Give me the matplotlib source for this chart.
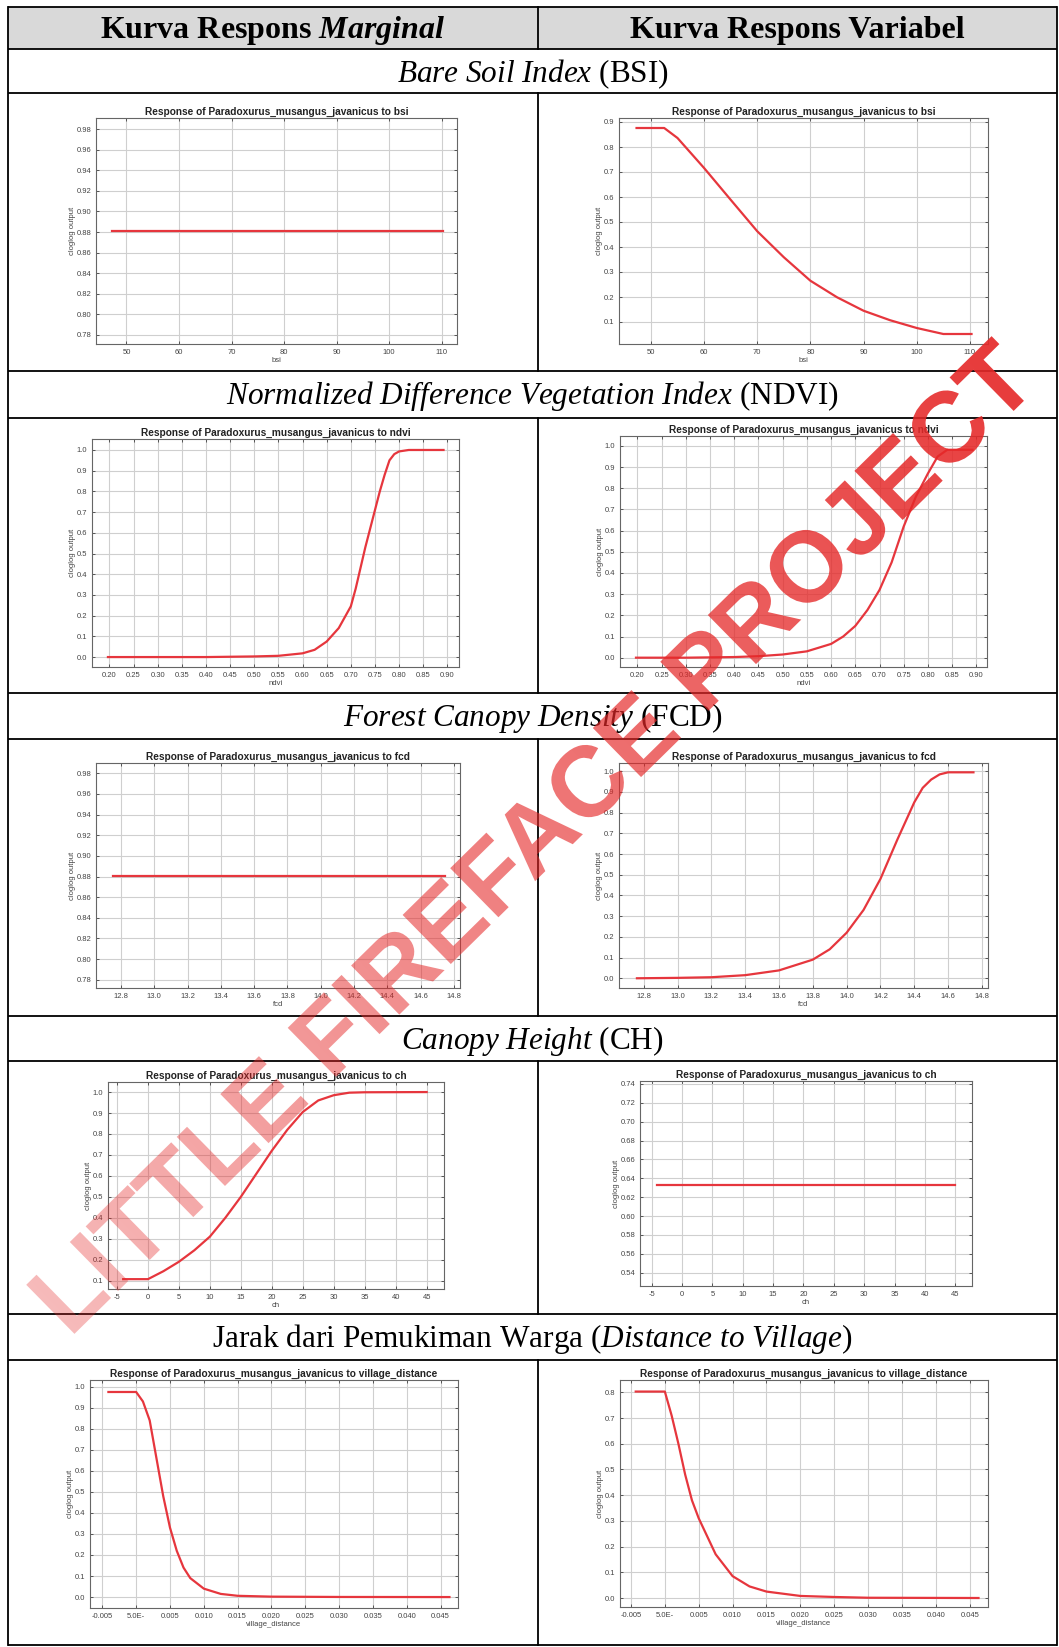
import matplotlib
matplotlib.use("Agg")
import numpy as np
import matplotlib.pyplot as plt
from matplotlib.patches import Rectangle, PathPatch
from matplotlib.textpath import TextPath
from matplotlib.font_manager import FontProperties
from matplotlib.transforms import Affine2D

plt.rcParams['font.family'] = 'Liberation Sans'
plt.rcParams['mathtext.fontset'] = 'custom'
plt.rcParams['mathtext.rm'] = 'Liberation Serif'
plt.rcParams['mathtext.it'] = 'Liberation Serif:italic'
plt.rcParams['mathtext.bf'] = 'Liberation Serif:bold'
plt.rcParams['mathtext.bfit'] = 'Liberation Serif:italic:bold'

# ------------------------- #
#          Data             #
# ------------------------- #

species = "Paradoxurus_musangus_javanicus"

# BSI
bsi_x_marg = [47.3, 110.3]
bsi_y_marg = [0.881, 0.881]
bsi_x_var = [47.3, 52.5, 55, 60, 65, 70, 75, 80, 85, 90, 95, 100, 105, 110.3]
bsi_y_var = [0.876, 0.876, 0.836, 0.716, 0.589, 0.463, 0.359, 0.265, 0.199, 0.145, 0.107, 0.076, 0.052, 0.052]

# NDVI
ndvi_x_marg = [0.197, 0.30, 0.40, 0.50, 0.55, 0.60, 0.625, 0.65, 0.675, 0.70, 0.71, 0.72,
               0.73, 0.74, 0.75, 0.76, 0.77, 0.78, 0.79, 0.80, 0.82, 0.892]
ndvi_y_marg = [0.0, 0.0, 0.0, 0.003, 0.006, 0.018, 0.035, 0.075, 0.14, 0.245, 0.33, 0.43,
               0.53, 0.62, 0.71, 0.80, 0.88, 0.95, 0.98, 0.993, 1.0, 1.0]
ndvi_x_var = [0.197, 0.30, 0.40, 0.45, 0.50, 0.55, 0.60, 0.625, 0.65, 0.675, 0.70, 0.725,
              0.75, 0.775, 0.80, 0.82, 0.84, 0.892]
ndvi_y_var = [0.0, 0.0, 0.003, 0.007, 0.015, 0.03, 0.065, 0.10, 0.15, 0.225, 0.32, 0.45,
              0.62, 0.76, 0.87, 0.95, 0.982, 0.982]

# FCD
fcd_x_marg = [12.755, 14.745]
fcd_y_marg = [0.881, 0.881]
fcd_x_var = [12.76, 13.0, 13.2, 13.4, 13.6, 13.8, 13.9, 14.0, 14.1, 14.2, 14.3, 14.4,
             14.45, 14.5, 14.55, 14.6, 14.75]
fcd_y_var = [0.0, 0.002, 0.005, 0.015, 0.038, 0.09, 0.14, 0.22, 0.33, 0.48, 0.67, 0.85,
             0.92, 0.96, 0.985, 0.995, 0.995]

# CH
ch_x_marg = [-4, -2, 0, 2.5, 5, 7.5, 10, 12.5, 15, 17.5, 20, 22.5, 25, 27.5, 30, 32.5, 35, 45]
ch_y_marg = [0.107, 0.107, 0.107, 0.145, 0.19, 0.245, 0.31, 0.40, 0.50, 0.61, 0.72, 0.82,
             0.905, 0.96, 0.985, 0.997, 0.999, 1.0]
ch_x_var = [-4.2, 45]
ch_y_var = [0.633, 0.633]

# Village distance
vil_x_marg = [-0.0041, 0.0, 0.001, 0.002, 0.003, 0.004, 0.005, 0.006, 0.007, 0.008, 0.010,
              0.0125, 0.015, 0.020, 0.030, 0.0463]
vil_y_marg = [0.975, 0.975, 0.93, 0.84, 0.66, 0.48, 0.33, 0.22, 0.14, 0.09, 0.04,
              0.015, 0.006, 0.002, 0.0005, 0.0]
vil_x_var = [-0.0043, 0.0, 0.001, 0.002, 0.003, 0.004, 0.005, 0.0075, 0.010, 0.0125, 0.015,
             0.020, 0.025, 0.030, 0.0463]
vil_y_var = [0.803, 0.803, 0.71, 0.60, 0.48, 0.38, 0.31, 0.17, 0.085, 0.045, 0.025,
             0.008, 0.004, 0.001, 0.0]

# ticks
bsi_xticks = [50, 60, 70, 80, 90, 100, 110]
ndvi_xticks = [0.20, 0.25, 0.30, 0.35, 0.40, 0.45, 0.50, 0.55, 0.60, 0.65, 0.70, 0.75, 0.80, 0.85, 0.90]
fcd_xticks = [12.8, 13.0, 13.2, 13.4, 13.6, 13.8, 14.0, 14.2, 14.4, 14.6, 14.8]
ch_xticks = [-5, 0, 5, 10, 15, 20, 25, 30, 35, 40, 45]
vil_xticks = [-0.005, 0.0, 0.005, 0.010, 0.015, 0.020, 0.025, 0.030, 0.035, 0.040, 0.045]
vil_xlabels = ["-0.005", "5.0E-", "0.005", "0.010", "0.015", "0.020", "0.025",
               "0.030", "0.035", "0.040", "0.045"]
y_flat = [0.78, 0.80, 0.82, 0.84, 0.86, 0.88, 0.90, 0.92, 0.94, 0.96, 0.98]
y_unit = [0.0, 0.1, 0.2, 0.3, 0.4, 0.5, 0.6, 0.7, 0.8, 0.9, 1.0]
y_bsi = [0.1, 0.2, 0.3, 0.4, 0.5, 0.6, 0.7, 0.8, 0.9]
y_ch_marg = [0.1, 0.2, 0.3, 0.4, 0.5, 0.6, 0.7, 0.8, 0.9, 1.0]
y_ch_var = [0.54, 0.56, 0.58, 0.60, 0.62, 0.64, 0.66, 0.68, 0.70, 0.72, 0.74]
y_vil_var = [0.0, 0.1, 0.2, 0.3, 0.4, 0.5, 0.6, 0.7, 0.8]

header_left = r'Kurva Respons $\mathbfit{Marginal}$'
header_right = 'Kurva Respons Variabel'
row_titles = [
    r'$\mathit{Bare\ Soil\ Index}$ (BSI)',
    r'$\mathit{Normalized\ Difference\ Vegetation\ Index}$ (NDVI)',
    r'$\mathit{Forest\ Canopy\ Density}$ (FCD)',
    r'$\mathit{Canopy\ Height}$ (CH)',
    r'Jarak dari Pemukiman Warga ($\mathit{Distance\ to\ Village}$)',
]
watermark = 'LITTLE FIREFACE PROJECT'

# ------------------------- #
#          Layout           #
# ------------------------- #

W, H = 1059, 1647
fig = plt.figure(figsize=(W / 100, H / 100), dpi=100)

bg = fig.add_axes([0, 0, 1, 1], zorder=-1)
bg.set_xlim(0, W)
bg.set_ylim(H, 0)
bg.axis('off')

L, R, MID = 8, 1057, 538
row_lines = [7, 49, 93, 371, 418, 693, 739, 1016, 1061, 1314, 1360, 1645]

bg.add_patch(Rectangle((L, 7), R - L, 42, color='#d9d9d9', lw=0))
for yy in row_lines:
    bg.plot([L, R], [yy, yy], color='black', lw=1.3, solid_capstyle='butt')
bg.plot([L, L], [7, 1645], color='black', lw=1.3)
bg.plot([R, R], [7, 1645], color='black', lw=1.3)
# garis tengah hanya di header dan baris grafik
for i in [0, 2, 4, 6, 8, 10]:
    bg.plot([MID, MID], [row_lines[i], row_lines[i + 1]], color='black', lw=1.3)

serif = 'Liberation Serif'
bg.text((L + MID) / 2, 38, header_left, fontsize=23, weight='bold', family=serif,
        ha='center', va='baseline')
bg.text((MID + R) / 2, 38, header_right, fontsize=23, weight='bold', family=serif,
        ha='center', va='baseline')
for i, t in enumerate(row_titles):
    bg.text((L + R) / 2, row_lines[1 + 2 * i] + 33, t, fontsize=22.5, family=serif,
            ha='center', va='baseline')

RED = '#e6363d'
TXT = '#444444'


def panel(box, x, y, var, xlim, ylim, xt, xtl, yt, yfmt):
    l, t, r, b = box
    ax = fig.add_axes([l / W, 1 - b / H, (r - l) / W, (b - t) / H])
    ax.plot(x, y, color=RED, lw=1.6)
    ax.set_xlim(xlim)
    ax.set_ylim(ylim)
    ax.set_xticks(xt)
    ax.set_xticklabels(xtl)
    ax.set_yticks(yt)
    ax.set_yticklabels([yfmt % v for v in yt])
    ax.grid(True, color='#cfcfcf', lw=0.8)
    ax.set_axisbelow(True)
    ax.tick_params(direction='in', length=2.5, width=0.7, colors='#555555',
                   labelcolor=TXT, labelsize=5.5, pad=3.5, top=True, right=True)
    for s in ax.spines.values():
        s.set_color('#666666')
        s.set_linewidth(0.8)
    ax.set_title(f'Response of {species} to {var}', fontsize=7.3, weight='bold',
                 pad=2.5, color='#222222')
    ax.set_xlabel(var, fontsize=5.5, labelpad=0.5, color=TXT)
    ax.set_ylabel('cloglog output', fontsize=5.5, labelpad=0.5, color=TXT)
    return ax


fmt_x = lambda vals, f: [f % v for v in vals]

# baris 1 - BSI
panel((96, 118, 457, 344), bsi_x_marg, bsi_y_marg, 'bsi', (44.2, 112.9), (0.771, 0.991),
      bsi_xticks, fmt_x(bsi_xticks, '%d'), y_flat, '%.2f')
panel((619, 118, 988, 344), bsi_x_var, bsi_y_var, 'bsi', (44.0, 113.4), (0.012, 0.916),
      bsi_xticks, fmt_x(bsi_xticks, '%d'), y_bsi, '%.1f')

# baris 2 - NDVI
panel((92, 439, 459, 667), ndvi_x_marg, ndvi_y_marg, 'ndvi', (0.164, 0.924), (-0.048, 1.053),
      ndvi_xticks, fmt_x(ndvi_xticks, '%.2f'), y_unit, '%.1f')
panel((620, 436, 987, 667), ndvi_x_var, ndvi_y_var, 'ndvi', (0.164, 0.922), (-0.044, 1.047),
      ndvi_xticks, fmt_x(ndvi_xticks, '%.2f'), y_unit, '%.1f')

# baris 3 - FCD
panel((96, 763, 460, 988), fcd_x_marg, fcd_y_marg, 'fcd', (12.65, 14.836), (0.772, 0.990),
      fcd_xticks, fmt_x(fcd_xticks, '%.1f'), y_flat, '%.2f')
panel((619, 763, 988, 988), fcd_x_var, fcd_y_var, 'fcd', (12.654, 14.836), (-0.047, 1.04),
      fcd_xticks, fmt_x(fcd_xticks, '%.1f'), y_unit, '%.1f')

# baris 4 - CH
panel((108, 1082, 444, 1289), ch_x_marg, ch_y_marg, 'ch', (-6.45, 47.8), (0.060, 1.048),
      ch_xticks, fmt_x(ch_xticks, '%d'), y_ch_marg, '%.1f')
panel((640, 1081, 972, 1286), ch_x_var, ch_y_var, 'ch', (-6.92, 47.75), (0.526, 0.743),
      ch_xticks, fmt_x(ch_xticks, '%d'), y_ch_var, '%.2f')

# baris 5 - jarak desa
panel((90, 1380, 458, 1608), vil_x_marg, vil_y_marg, 'village_distance', (-0.00682, 0.04756),
      (-0.052, 1.032), vil_xticks, vil_xlabels, y_unit, '%.1f')
panel((620, 1380, 988, 1607), vil_x_var, vil_y_var, 'village_distance', (-0.00662, 0.0477),
      (-0.035, 0.848), vil_xticks, vil_xlabels, y_vil_var, '%.1f')

# ------------------------- #
#   Watermark (gradien)     #
# ------------------------- #

top = fig.add_axes([0, 0, 1, 1], zorder=20)
top.set_xlim(0, W)
top.set_ylim(0, H)
top.axis('off')
top.patch.set_alpha(0)

cx, cy, ang = 533, H - 835, 44.5
tp = TextPath((0, 0), watermark, size=100,
              prop=FontProperties(family='Liberation Sans', weight='bold'))
ext = tp.get_extents()
tr = (Affine2D().translate(-(ext.x0 + ext.x1) / 2, -(ext.y0 + ext.y1) / 2)
      .rotate_deg(ang).translate(cx, cy))
wm_patch = PathPatch(tr.transform_path(tp), fc='none', ec='none')
top.add_patch(wm_patch)

gx, gy = np.meshgrid(np.linspace(0, W, 220), np.linspace(0, H, 340))
half = ext.width / 2
u = ((gx - cx) * np.cos(np.radians(ang)) + (gy - cy) * np.sin(np.radians(ang))) / half
rgba = np.zeros(gx.shape + (4,))
rgba[..., 0] = 0.90
rgba[..., 1] = 0.16
rgba[..., 2] = 0.16
rgba[..., 3] = np.clip(0.62 + 0.30 * u, 0.3, 0.95)
im = top.imshow(rgba, extent=(0, W, 0, H), origin='lower', aspect='auto',
                interpolation='bilinear')
im.set_clip_path(wm_patch)

fig.savefig('out.png', dpi=100)
